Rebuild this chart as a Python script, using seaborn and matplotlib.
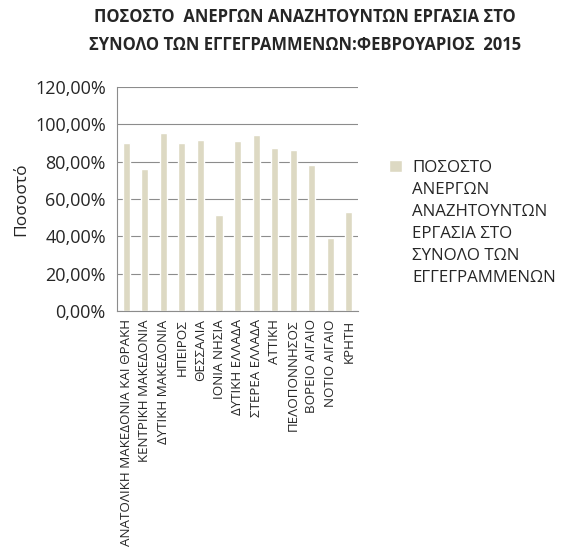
import numpy as np
import pandas as pd
import matplotlib
matplotlib.use("Agg")
import matplotlib.pyplot as plt
import seaborn as sns
from matplotlib.ticker import FuncFormatter, FixedLocator

regions = [
    "ΑΝΑΤΟΛΙΚΗ ΜΑΚΕΔΟΝΙΑ ΚΑΙ ΘΡΑΚΗ", "ΚΕΝΤΡΙΚΗ ΜΑΚΕΔΟΝΙΑ", "ΔΥΤΙΚΗ ΜΑΚΕΔΟΝΙΑ",
    "ΗΠΕΙΡΟΣ", "ΘΕΣΣΑΛΙΑ", "ΙΟΝΙΑ ΝΗΣΙΑ", "ΔΥΤΙΚΗ ΕΛΛΑΔΑ", "ΣΤΕΡΕΑ ΕΛΛΑΔΑ",
    "ΑΤΤΙΚΗ", "ΠΕΛΟΠΟΝΝΗΣΟΣ", "ΒΟΡΕΙΟ ΑΙΓΑΙΟ", "ΝΟΤΙΟ ΑΙΓΑΙΟ", "ΚΡΗΤΗ",
]
share = [90.0, 76.1, 95.5, 90.0, 91.6, 51.4, 91.3, 94.1, 87.3, 86.4, 78.2, 38.9, 53.2]
y_ticks = [0, 20, 40, 60, 80, 100, 120]
series_label = "ΠΟΣΟΣΤΟ\nΑΝΕΡΓΩΝ\nΑΝΑΖΗΤΟΥΝΤΩΝ\nΕΡΓΑΣΙΑ ΣΤΟ\nΣΥΝΟΛΟ ΤΩΝ\nΕΓΓΕΓΡΑΜΜΕΝΩΝ"
title = "ΠΟΣΟΣΤΟ  ΑΝΕΡΓΩΝ ΑΝΑΖΗΤΟΥΝΤΩΝ ΕΡΓΑΣΙΑ ΣΤΟ\nΣΥΝΟΛΟ ΤΩΝ ΕΓΓΕΓΡΑΜΜΕΝΩΝ:ΦΕΒΡΟΥΑΡΙΟΣ  2015"

df = pd.DataFrame({"region": regions, "share": share})

sns.set_style("white")
plt.rcParams["font.family"] = ["Open Sans", "DejaVu Sans"]

fig = plt.figure(figsize=(5.65, 5.53), dpi=100)
ax = fig.add_axes([0.207, 0.4376, 0.427, 0.405])

sns.barplot(data=df, x="region", y="share", color="#DDD9C3", width=0.38,
            saturation=1, label=series_label, ax=ax)

ax.set_ylim(0, 120)
ax.set_xlim(-0.5, len(regions) - 0.5)
ax.yaxis.set_major_locator(FixedLocator(y_ticks))
ax.yaxis.set_major_formatter(FuncFormatter(lambda v, p: f"{v:.2f}%".replace(".", ",")))
ax.grid(axis="y", color="#8c8c8c", linewidth=0.8)
ax.set_axisbelow(True)
for s in ["top", "right"]:
    ax.spines[s].set_visible(False)
for s in ["left", "bottom"]:
    ax.spines[s].set_color("#8c8c8c")
    ax.spines[s].set_linewidth(0.8)

ax.tick_params(axis="y", labelsize=13, length=5, color="#8c8c8c", pad=3)
ax.tick_params(axis="x", which="major", length=0, labelsize=9.6, rotation=90, pad=6)
ax.set_xticks(np.arange(-0.5, len(regions), 1), minor=True)
ax.tick_params(axis="x", which="minor", length=4, color="#8c8c8c")
ax.set_xlabel("")
ax.set_ylabel("Ποσοστό", fontsize=12.5, labelpad=4)

fig.suptitle(title, fontsize=12, fontweight="bold", x=0.54, y=0.985, linespacing=1.7)

leg = ax.legend(loc="upper left", bbox_to_anchor=(1.1, 0.705), frameon=False,
                fontsize=12.2, handlelength=0.75, handleheight=0.75, handletextpad=0.6,
                borderaxespad=0)
for t in leg.get_texts():
    t.set_linespacing(1.5)
# put the colour square next to the first line, as in the source chart
for col in leg._legend_handle_box.get_children():
    for row in col.get_children():
        row.align = "top"

fig.savefig("out.png", dpi=100)
